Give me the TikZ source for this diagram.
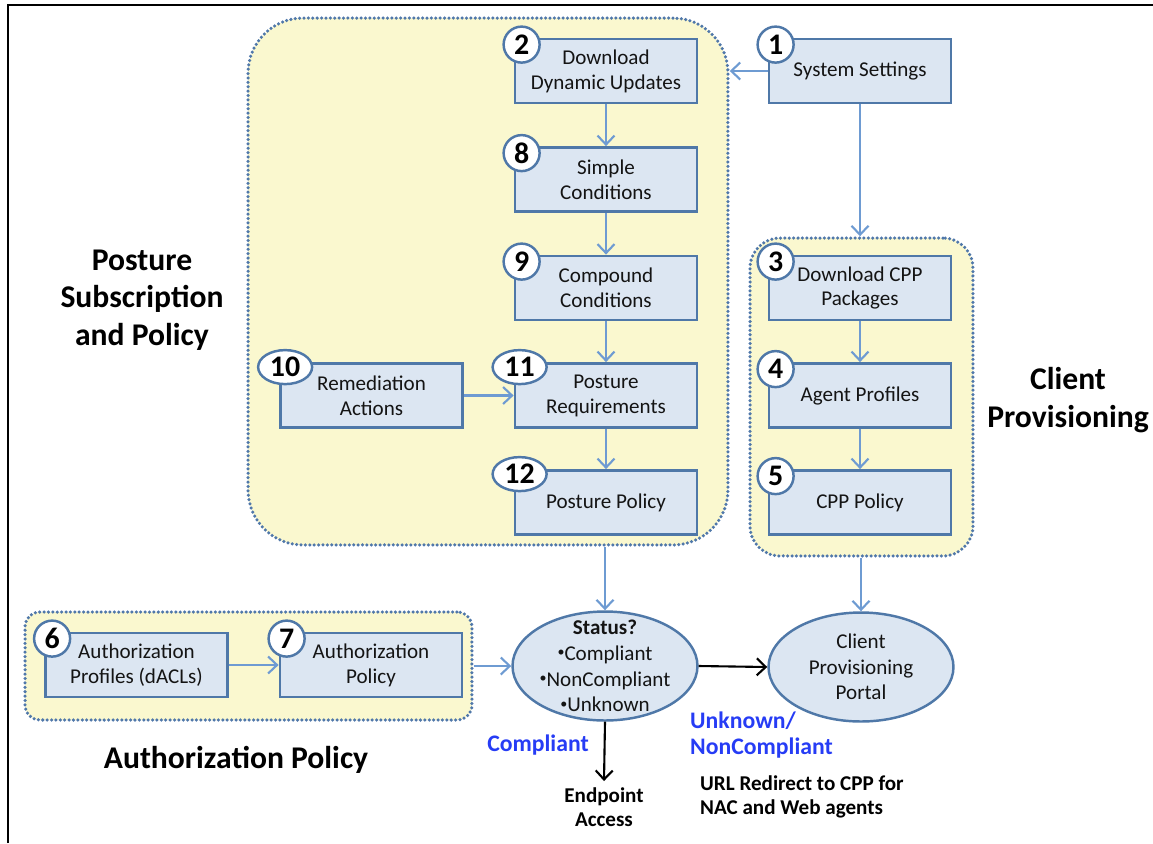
\documentclass[tikz,border=0pt]{standalone}
\usepackage{fontspec}
\setmainfont{Carlito}
\usepackage{tikz}
\usetikzlibrary{shapes.geometric, arrows.meta, positioning}
\usepackage{xcolor}
\definecolor{grpfill}{RGB}{250,248,207}
\definecolor{grpline}{RGB}{80,120,170}
\definecolor{boxfill}{RGB}{220,230,242}
\definecolor{boxline}{RGB}{79,120,168}
\definecolor{arrcolor}{RGB}{110,155,210}
\definecolor{lblblue}{RGB}{38,60,245}
\definecolor{txtgray}{RGB}{20,20,20}
\newcommand{\sbul}{\raisebox{0.35ex}{\fontsize{8}{8}\selectfont•}}

\begin{document}
\begin{tikzpicture}[
    x=0.02cm, y=-0.02cm,
    group/.style={rectangle, draw=grpline, fill=grpfill, line width=2pt, dash pattern=on 0pt off 2.5pt, line cap=round},
    block/.style={rectangle, draw=boxline, fill=boxfill, line width=1.6pt, minimum width=3.64cm, minimum height=1.28cm, align=center, font=\fontsize{12}{14.2}\selectfont, text=txtgray},
    badge/.style={circle, draw=boxline, fill=white, line width=1.4pt, minimum size=0.72cm, inner sep=0pt, font=\fontsize{17}{17}\selectfont\bfseries},
    wbadge/.style={badge, ellipse, minimum width=1.08cm, minimum height=0.68cm},
    state/.style={ellipse, draw=boxline, fill=boxfill, line width=1.4pt, minimum width=3.7cm, minimum height=2.18cm},
    statetext/.style={align=center, font=\fontsize{12}{14.6}\selectfont, text=txtgray},
    title/.style={align=center, font=\fontsize{18}{21.5}\selectfont\bfseries},
    note/.style={align=center, font=\fontsize{12}{14}\selectfont\bfseries},
    bluenote/.style={align=left, font=\fontsize{13.5}{14.5}\selectfont\bfseries, text=lblblue},
    arrow/.style={-{Straight Barb[length=1.8mm, width=3.4mm]}, line width=1.2pt, draw=arrcolor},
    blackarrow/.style={arrow, draw=black}
]
\useasboundingbox (0,0) rectangle (1153,843);
% frame
\draw[line width=1.5pt] (8,843) -- (8,5) -- (1153,5);

% groups
\node[group, minimum width=9.6cm, minimum height=10.54cm, rounded corners=1.1cm] (post) at (488,281.5) {};
\node[group, minimum width=4.46cm, minimum height=6.36cm, rounded corners=0.6cm] (cli) at (861.5,397) {};
\node[group, minimum width=8.94cm, minimum height=2.16cm, rounded corners=0.3cm] (auth) at (248.5,666) {};

% blocks
\node[block] (b1) at (860,71) {System Settings};
\node[block] (b2) at (606,71) {Download\\Dynamic Updates};
\node[block] (b8) at (606,179.5) {Simple\\Conditions};
\node[block] (b9) at (606,288) {Compound\\Conditions};
\node[block] (b10) at (371.5,395.5) {Remediation\\Actions};
\node[block] (b11) at (606,395.5) {Posture\\Requirements};
\node[block] (b12) at (606,502.5) {Posture Policy};
\node[block] (b3) at (860,288) {Download CPP\\Packages};
\node[block] (b4) at (860,395.5) {Agent Profiles};
\node[block] (b5) at (860,502.5) {CPP Policy};
\node[block] (b6) at (136.5,665) {Authorization\\Profiles (dACLs)};
\node[block] (b7) at (371,665) {Authorization\\Policy};

% number badges
\foreach \n in {1,2,3,4,5,6,7,8,9}
  \node[badge] (n\n) at ([shift={(8,7)}]b\n.north west) {\n};
\foreach \n in {10,11,12}
  \node[wbadge] (n\n) at ([shift={(6,5)}]b\n.north west) {\n};

% states
\node[state, label={[statetext]center:{\textbf{Status?}\\\sbul Compliant\\\sbul NonCompliant\\\sbul Unknown}}] (status) at (605,666) {};
\node[state, label={[statetext]center:{Client\\Provisioning\\Portal}}] (portal) at (861,667) {};

% titles and notes
\node[title] (tpost) at (142,300) {Posture\\Subscription\\and Policy};
\node[title] (tcli) at (1068,400) {Client\\Provisioning};
\node[title] (tauth) at (236,760) {Authorization Policy};
\node[bluenote] (cmpl) at (538,745) {Compliant};
\node[bluenote, anchor=west] (ncmpl) at (684,735) {Unknown/\\NonCompliant};
\node[note, align=left, anchor=west] (redir) at (694,797) {URL Redirect to CPP for\\NAC and Web agents};
\node[note] (endpt) at (604,807) {Endpoint\\Access};

% connectors
\draw[arrow] (b1.west) -- (b1.west -| post.east);
\draw[arrow] (b1.south) -- (b1.south |- cli.north);
\draw[arrow] (b2) -- (b8);
\draw[arrow] (b8) -- (b9);
\draw[arrow] (b9) -- (b11);
\draw[arrow] (b10) -- (b11);
\draw[arrow] (b11) -- (b12);
\draw[arrow] (b3) -- (b4);
\draw[arrow] (b4) -- (b5);
\draw[arrow] (b6) -- (b7);
\draw[arrow] (auth.east) -- (status.west);
\draw[arrow] (status.north |- post.south) -- (status.north);
\draw[arrow] (portal.north |- cli.south) -- (portal.north);
\draw[blackarrow] (status.east) -- (portal.west);
\draw[blackarrow] (status.south) -- (endpt.north);
\end{tikzpicture}
\end{document}
